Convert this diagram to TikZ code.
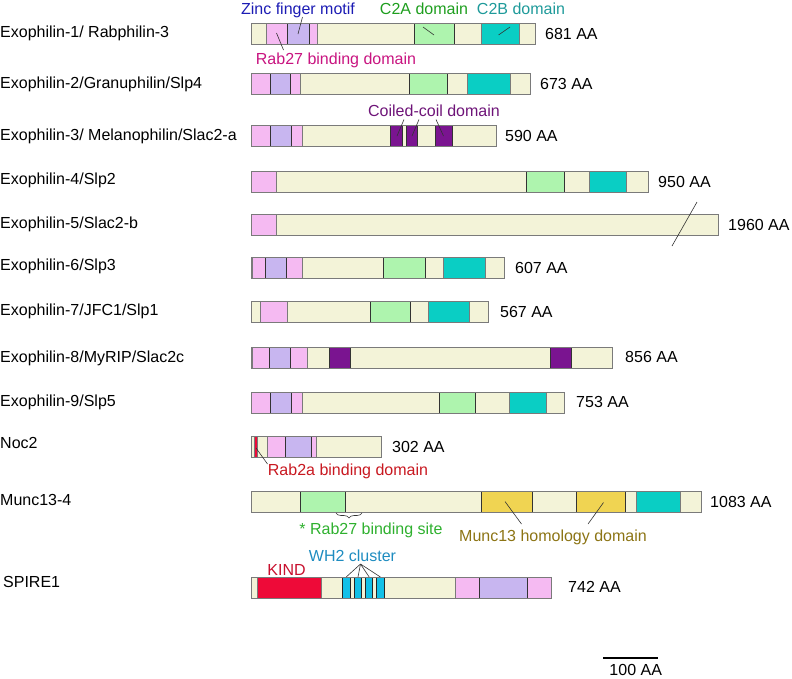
\documentclass[tikz,border=0pt]{standalone}
\usepackage{fontspec}
\setmainfont{Liberation Sans}
\usetikzlibrary{decorations.pathreplacing}
\definecolor{tanc}{HTML}{F3F3D8}
\definecolor{pinkc}{HTML}{F5BAF2}
\definecolor{lavc}{HTML}{C8B6F0}
\definecolor{c2ac}{HTML}{AEF4AE}
\definecolor{c2bc}{HTML}{0ACEC4}
\definecolor{coilc}{HTML}{7A1490}
\definecolor{redc}{HTML}{EE0A38}
\definecolor{yelc}{HTML}{F0D452}
\definecolor{wh2c}{HTML}{12C0E8}
\definecolor{framec}{HTML}{7A7A7A}
\definecolor{zinct}{HTML}{1C1CB4}
\definecolor{c2at}{HTML}{1E9E1E}
\definecolor{c2bt}{HTML}{1E9A9A}
\definecolor{rabt}{HTML}{C81480}
\definecolor{coilt}{HTML}{6E1478}
\definecolor{rab2t}{HTML}{C81820}
\definecolor{sitet}{HTML}{2EB02E}
\definecolor{munct}{HTML}{8C7414}
\definecolor{kindt}{HTML}{C8102E}
\definecolor{wh2t}{HTML}{1E8CC0}
\newcommand\pbar[2]{\fill[tanc] (251,#1) rectangle (#2,#1+21);}
\newcommand\pframe[2]{\draw[framec,line width=0.9pt] (251,#1) rectangle (#2,#1+21);}
\newcommand\dom[4]{\filldraw[#4] (#1,#3) rectangle (#2,#3+21);}
\begin{document}
\begin{tikzpicture}[x=1pt,y=-1pt,
  every node/.style={inner sep=0pt,font=\fontsize{16}{19}\selectfont},
  protname/.style={anchor=base west},
  sizelab/.style={anchor=base west},
  domlab/.style={anchor=base},
  pink/.style={fill=pinkc,draw=framec,line width=0.8pt},
  lav/.style={fill=lavc,draw=black!80,line width=0.8pt},
  ctwoa/.style={fill=c2ac,draw=black!80,line width=0.8pt},
  ctwob/.style={fill=c2bc,draw=framec,line width=0.8pt},
  coil/.style={fill=coilc,draw=black!80,line width=0.8pt},
  redd/.style={fill=redc,draw=framec,line width=0.8pt},
  yel/.style={fill=yelc,draw=black!80,line width=0.8pt},
  wh/.style={fill=wh2c,draw=black!85,line width=0.8pt},
  pointer/.style={draw=black!80,line width=0.6pt}]
\useasboundingbox (0,0) rectangle (792,678);

% ---------- protein names ----------
\node[protname] (n1) at (0,37.7) {Exophilin-1/ Rabphilin-3};
\node[protname] (n2) at (0,88.3) {Exophilin-2/Granuphilin/Slp4};
\node[protname] (n3) at (0,140) {Exophilin-3/ Melanophilin/Slac2-a};
\node[protname] (n4) at (0,184) {Exophilin-4/Slp2};
\node[protname] (n5) at (0,228.3) {Exophilin-5/Slac2-b};
\node[protname] (n6) at (0,270.7) {Exophilin-6/Slp3};
\node[protname] (n7) at (0,315.5) {Exophilin-7/JFC1/Slp1};
\node[protname] (n8) at (0,362) {Exophilin-8/MyRIP/Slac2c};
\node[protname] (n9) at (0,406.5) {Exophilin-9/Slp5};
\node[protname] (n10) at (0,448.5) {Noc2};
\node[protname] (n11) at (0,505.5) {Munc13-4};
\node[protname] (n12) at (3,587.5) {SPIRE1};

% ---------- row 1 ----------
\pbar{23}{535.7}
\dom{266}{317.3}{23}{pink}
\dom{287.3}{309}{23}{lav}
\dom{414.3}{454}{23}{ctwoa}
\dom{481.3}{519.3}{23}{ctwob}
\pframe{23}{535.7}
% ---------- row 2 ----------
\pbar{73}{530}
\dom{251}{300.7}{73}{pink}
\dom{270}{290.7}{73}{lav}
\dom{409.3}{447.7}{73}{ctwoa}
\dom{467.3}{510}{73}{ctwob}
\pframe{73}{530}
% ---------- row 3 ----------
\pbar{125}{496}
\dom{251}{302}{125}{pink}
\dom{270.7}{291.7}{125}{lav}
\dom{390.3}{402.3}{125}{coil}
\dom{406}{417.3}{125}{coil}
\dom{435.3}{452}{125}{coil}
\pframe{125}{496}
% ---------- row 4 ----------
\pbar{171}{648.3}
\dom{251}{276.7}{171}{pink}
\dom{526.7}{564.3}{171}{ctwoa}
\dom{589.3}{626.7}{171}{ctwob}
\pframe{171}{648.3}
% ---------- row 5 ----------
\pbar{214}{718.3}
\dom{251}{276.7}{214}{pink}
\pframe{214}{718.3}
% ---------- row 6 ----------
\pbar{257}{504.3}
\dom{252.5}{302}{257}{pink}
\dom{265.3}{286}{257}{lav}
\dom{383.3}{425.7}{257}{ctwoa}
\dom{443.3}{485.7}{257}{ctwob}
\pframe{257}{504.3}
% ---------- row 7 ----------
\pbar{301}{488.3}
\dom{260.7}{287.7}{301}{pink}
\dom{370.3}{410.7}{301}{ctwoa}
\dom{428.3}{469.7}{301}{ctwob}
\pframe{301}{488.3}
% ---------- row 8 ----------
\pbar{347}{612.3}
\dom{252.5}{307.7}{347}{pink}
\dom{269.3}{290.7}{347}{lav}
\dom{329}{350.3}{347}{coil}
\dom{550.3}{571.7}{347}{coil}
\pframe{347}{612.3}
% ---------- row 9 ----------
\pbar{392}{564.3}
\dom{251}{302}{392}{pink}
\dom{270.7}{291.7}{392}{lav}
\dom{439.3}{475}{392}{ctwoa}
\dom{509.3}{546}{392}{ctwob}
\pframe{392}{564.3}
% ---------- row 10 ----------
\pbar{436}{381.7}
\dom{254}{257.3}{436}{redd}
\dom{267.3}{316.7}{436}{pink}
\dom{285}{311.7}{436}{lav}
\pframe{436}{381.7}
% ---------- row 11 ----------
\pbar{491}{701.7}
\dom{300.3}{345.3}{491}{ctwoa}
\dom{481}{532.7}{491}{yel}
\dom{576}{625}{491}{yel}
\dom{636.7}{680}{491}{ctwob}
\pframe{491}{701.7}
% ---------- row 12 ----------
\pbar{577}{551.7}
\dom{257.7}{321}{577}{redd}
\dom{342.3}{350}{577}{wh}
\dom{354.3}{361.7}{577}{wh}
\dom{365.7}{372.7}{577}{wh}
\dom{376.7}{384}{577}{wh}
\dom{455.7}{551.7}{577}{pink}
\dom{479.3}{527.7}{577}{lav}
\pframe{577}{551.7}

% ---------- lengths ----------
\node[sizelab] (s1) at (545,39) {681 AA};
\node[sizelab] (s2) at (540,89.5) {673 AA};
\node[sizelab] (s3) at (505,141) {590 AA};
\node[sizelab] (s4) at (658,187) {950 AA};
\node[sizelab] (s5) at (728,230) {1960 AA};
\node[sizelab] (s6) at (515,273) {607 AA};
\node[sizelab] (s7) at (500,317) {567 AA};
\node[sizelab] (s8) at (625,362.5) {856 AA};
\node[sizelab] (s9) at (576,407.5) {753 AA};
\node[sizelab] (s10) at (392,452) {302 AA};
\node[sizelab] (s11) at (710,507) {1083 AA};
\node[sizelab] (s12) at (568,592.5) {742 AA};

% break mark on Exophilin-5
\coordinate (bk1) at (697,202);
\coordinate (bk2) at (672,246);
\draw[pointer] (bk1) -- (bk2);

% ---------- domain labels ----------
\node[domlab,text=zinct] (lzinc) at (298,14) {Zinc finger motif};
\node[domlab,text=c2at] (lc2a) at (424,14) {C2A domain};
\node[domlab,text=c2bt] (lc2b) at (521,14) {C2B domain};
\node[domlab,text=rabt] (lrab) at (336,64) {Rab27 binding domain};
\node[domlab,text=coilt] (lcoil) at (434,116) {Coiled-coil domain};
\node[domlab,text=rab2t] (lrab2) at (348,475) {Rab2a binding domain};
\node[domlab,text=sitet] (lsite) at (371,534) {* Rab27 binding site};
\node[domlab,text=munct] (lmunc) at (553,541.5) {Munc13 homology domain};
\node[domlab,text=kindt] (lkind) at (286.5,575) {KIND};
\node[domlab,text=wh2t] (lwh) at (352.5,561.5) {WH2 cluster};

% ---------- pointers ----------
\coordinate (zt) at (302.5,17);  \coordinate (zb) at (298,34);
\draw[pointer] (zt) -- (zb);
\coordinate (rt) at (276.5,33);  \coordinate (rb) at (283.5,50);
\draw[pointer] (rt) -- (rb);
\coordinate (at) at (423,27);    \coordinate (ab) at (434,35);
\draw[pointer] (at) -- (ab);
\coordinate (bt) at (510,27);    \coordinate (bb) at (498.5,35);
\draw[pointer] (bt) -- (bb);
\coordinate (c1t) at (404,119.5); \coordinate (c1b) at (397,136);
\coordinate (c2t) at (419,119.5); \coordinate (c2b) at (412,136);
\coordinate (c3t) at (436,119.5); \coordinate (c3b) at (443.5,136);
\draw[pointer] (c1t) -- (c1b);
\draw[pointer] (c2t) -- (c2b);
\draw[pointer] (c3t) -- (c3b);
\coordinate (r2a) at (256,448);  \coordinate (r2b) at (267.5,464);
\draw[pointer] (r2a) -- (r2b);
\coordinate (m1a) at (505,501.5); \coordinate (m1b) at (521.5,524);
\coordinate (m2a) at (603.5,502.5); \coordinate (m2b) at (588,524);
\draw[pointer] (m1a) -- (m1b);
\draw[pointer] (m2a) -- (m2b);
\coordinate (wapex) at (360.5,564);
\coordinate (w1) at (346.2,577);
\coordinate (w2) at (358,577);
\coordinate (w3) at (369.2,577);
\coordinate (w4) at (380.4,577);
\foreach \w in {w1,w2,w3,w4} \draw[pointer] (wapex) -- (\w);

% brace for Rab27 binding site
\coordinate (bra) at (336,513);
\coordinate (brb) at (362,513);
\draw[pointer,decorate,decoration={brace,amplitude=5pt,mirror}] (bra) -- (brb);

% ---------- scale bar ----------
\coordinate (sc1) at (603.3,658.3);
\coordinate (sc2) at (658.3,658.3);
\draw[black,line width=1.8pt] (sc1) -- (sc2);
\node[domlab] (lscale) at (635.7,675) {100 AA};
\end{tikzpicture}
\end{document}
